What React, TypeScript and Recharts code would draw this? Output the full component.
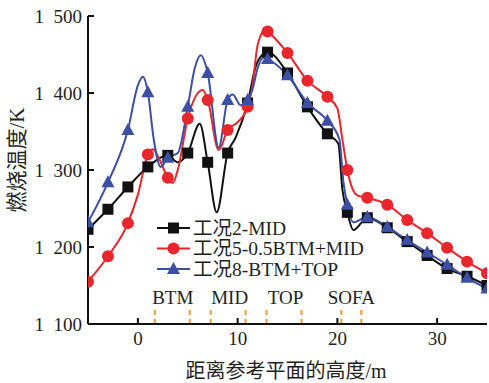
import React from 'react';
import { LineChart, Line, XAxis, YAxis, ReferenceLine, ReferenceDot } from 'recharts';

// marker positions (m) – points in between only shape the smooth curve
const MARK_X = [-5, -3, -1, 1, 3, 5, 7, 9, 11, 13, 15, 17, 19, 21, 23, 25, 27, 29, 31, 33, 35];

const case2X = [-5, -3, -1, 1, 3, 4, 5, 6.2, 7, 7.9, 9, 9.8, 11, 11.8, 12.5, 13, 15, 17, 19, 20.1, 20.5, 21, 21.6, 23, 25, 27, 29, 31, 33, 35];
const case2T = [1223, 1249, 1278, 1304, 1319, 1310, 1322, 1360, 1310, 1245, 1322, 1342, 1387, 1434, 1450, 1453, 1426, 1382, 1347, 1334, 1275, 1245, 1222, 1238, 1225, 1207, 1189, 1172, 1162, 1150];

const case5X = [-5, -3, -1, 0, 1, 1.5, 2.3, 3, 3.5, 4, 5, 6.5, 7, 8.1, 9, 10, 11, 11.5, 12, 12.8, 13, 15, 17, 19, 20, 20.5, 21, 21.5, 22, 23, 25, 27, 29, 31, 33, 35];
const case5T = [1155, 1188, 1231, 1268, 1320, 1327, 1310, 1290, 1283, 1300, 1367, 1404, 1391, 1326, 1352, 1362, 1382, 1410, 1462, 1482, 1480, 1452, 1416, 1395, 1380, 1340, 1300, 1276, 1267, 1264, 1255, 1235, 1218, 1199, 1181, 1166];

const case8X = [-5, -3, -1, 0, 0.5, 1, 1.6, 2.3, 3, 4, 5, 5.7, 6.3, 7, 8.1, 9, 9.5, 10.3, 11, 11.5, 12, 12.6, 13, 15, 17, 19, 20.2, 20.6, 21, 21.6, 23, 25, 27, 29, 31, 33, 35];
const case8T = [1232, 1284, 1352, 1410, 1421, 1401, 1339, 1304, 1316, 1322, 1382, 1432, 1449, 1426, 1329, 1391, 1398, 1384, 1391, 1405, 1432, 1446, 1444, 1423, 1387, 1364, 1340, 1285, 1255, 1232, 1239, 1226, 1209, 1193, 1177, 1160, 1146];

const ZONE_LINES = [1.7, 5.2, 7.3, 10.8, 12.9, 16.4, 20.4, 22.4];
const ZONE_NAMES = ['BTM', 'MID', 'TOP', 'SOFA'];
const ZONE_CENTERS = [3.5, 9.2, 14.8, 21.4];

const Y_TICKS = [1100, 1200, 1300, 1400, 1500];
const X_TICKS = [0, 10, 20, 30];

const toRows = (xs: number[], ys: number[]) => xs.map((x, i) => ({ x, t: ys[i] }));

const BLACK = '#111111';
const RED = '#e8262b';
const BLUE = '#3d4ea5';
const ORANGE = '#f39a3c';
const TEXT = '#231f20';
const FONT = '"Liberation Serif", "Times New Roman", "Noto Sans CJK SC", serif';

const LEFT = 88;
const BOTTOM = 324;

const Marker = ({ kind, cx, cy, color }: { kind: string; cx: number; cy: number; color: string }) => {
  if (kind === 'square') return <rect x={cx - 5.5} y={cy - 5.5} width={11} height={11} fill={color} />;
  if (kind === 'circle') return <circle cx={cx} cy={cy} r={6} fill={color} />;
  return <polygon points={`${cx},${cy - 7} ${cx + 6.5},${cy + 5} ${cx - 6.5},${cy + 5}`} fill={color} />;
};

const makeDot = (kind: string, color: string) => (props: any) => {
  const { cx, cy, payload, index } = props;
  if (cx == null || !MARK_X.includes(payload.x)) return <g key={index} />;
  return <g key={index}><Marker kind={kind} cx={cx} cy={cy} color={color} /></g>;
};

const YTick = (props: any) => {
  const { y, payload } = props;
  const v = String(payload.value);
  return (
    <g>
      <line x1={LEFT} x2={LEFT + 6} y1={y} y2={y} stroke={BLACK} strokeWidth={2} />
      <text x={LEFT - 6} y={y} textAnchor="end" dominantBaseline="central" fill={TEXT} fontSize={19} fontFamily={FONT}>
        {v.slice(0, 1) + '\u2002' + v.slice(1)}
      </text>
    </g>
  );
};

const XTick = (props: any) => {
  const { x, payload } = props;
  return (
    <g>
      <line x1={x} x2={x} y1={BOTTOM} y2={BOTTOM - 6} stroke={BLACK} strokeWidth={2} />
      <text x={x} y={BOTTOM + 14} textAnchor="middle" dominantBaseline="central" fill={TEXT} fontSize={19} fontFamily={FONT}>
        {payload.value}
      </text>
    </g>
  );
};

const legendItems = [
  { name: '工况2-MID', kind: 'square', color: BLACK },
  { name: '工况5-0.5BTM+MID', kind: 'circle', color: RED },
  { name: '工况8-BTM+TOP', kind: 'triangle', color: BLUE },
];

export default function App() {
  return (
    <div style={{ position: 'absolute', left: 0, top: 0, width: 489, height: 383, background: '#fff' }}>
      <LineChart width={489} height={383} margin={{ top: 16, right: 2, bottom: 0, left: 0 }}>
        <XAxis
          type="number"
          dataKey="x"
          domain={[-5, 35]}
          ticks={X_TICKS}
          allowDataOverflow
          height={59}
          tickSize={0}
          tick={<XTick />}
          axisLine={{ stroke: BLACK, strokeWidth: 2 }}
          label={{
            content: () => (
              <text x={286} y={371} textAnchor="middle" dominantBaseline="central" fill={TEXT} fontSize={20} fontFamily={FONT}>
                距离参考平面的高度/m
              </text>
            ),
          }}
        />
        <YAxis
          type="number"
          domain={[1100, 1500]}
          ticks={Y_TICKS}
          allowDataOverflow
          width={88}
          tickSize={0}
          tick={<YTick />}
          axisLine={{ stroke: BLACK, strokeWidth: 2 }}
          label={{
            content: () => (
              <text x={17} y={160} transform="rotate(-90 17 160)" textAnchor="middle" dominantBaseline="central" fill={TEXT} fontSize={21} fontFamily={FONT}>
                燃烧温度/K
              </text>
            ),
          }}
        />
        {ZONE_LINES.map((x) => (
          <ReferenceLine
            key={x}
            segment={[{ x, y: 1100 }, { x, y: 1122 }]}
            stroke={ORANGE}
            strokeWidth={2}
            strokeDasharray="5 4"
          />
        ))}
        {ZONE_NAMES.map((n, i) => (
          <ReferenceDot
            key={n}
            x={ZONE_CENTERS[i]}
            y={1135}
            r={0}
            fill="none"
            stroke="none"
            label={{ value: n, position: 'center', fill: TEXT, fontSize: 19, fontFamily: FONT }}
          />
        ))}
        <Line data={toRows(case2X, case2T)} dataKey="t" type="monotone" stroke={BLACK} strokeWidth={2}
          dot={makeDot('square', BLACK)} activeDot={false} isAnimationActive={false} />
        <Line data={toRows(case5X, case5T)} dataKey="t" type="monotone" stroke={RED} strokeWidth={2}
          dot={makeDot('circle', RED)} activeDot={false} isAnimationActive={false} />
        <Line data={toRows(case8X, case8T)} dataKey="t" type="monotone" stroke={BLUE} strokeWidth={2}
          dot={makeDot('triangle', BLUE)} activeDot={false} isAnimationActive={false} />
      </LineChart>
      <svg style={{ position: 'absolute', left: 150, top: 215 }} width={260} height={66}>
        {legendItems.map((it, i) => {
          const cy = 13 + i * 20.5;
          return (
            <g key={it.name}>
              <line x1={7} x2={40} y1={cy} y2={cy} stroke={it.color} strokeWidth={2} />
              <Marker kind={it.kind} cx={23.5} cy={cy} color={it.color} />
              <text x={43} y={cy} dominantBaseline="central" fill={TEXT} fontSize={19.5} fontFamily={FONT}>
                {it.name}
              </text>
            </g>
          );
        })}
      </svg>
    </div>
  );
}
